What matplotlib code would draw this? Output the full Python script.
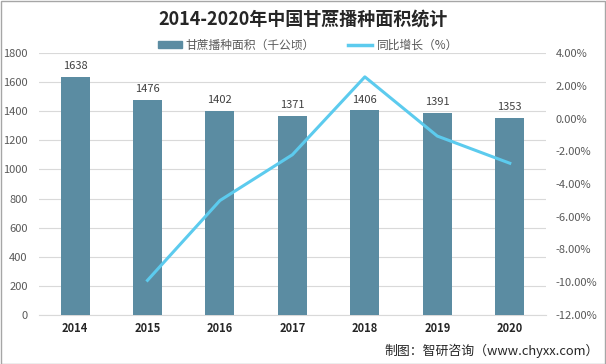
import numpy as np
import matplotlib.pyplot as plt
from matplotlib.ticker import FuncFormatter

plt.rcParams['font.family'] = ['Noto Sans CJK SC', 'DejaVu Sans']

years = ['2014', '2015', '2016', '2017', '2018', '2019', '2020']
area = [1638, 1476, 1402, 1371, 1406, 1391, 1353]
growth = [None, -9.89, -5.01, -2.21, 2.55, -1.07, -2.73]

bar_color = '#5b8ca2'
line_color = '#5ccbee'
grid_color = '#d9d9d9'
text_color = '#595959'

fig = plt.figure(figsize=(6.06, 3.64), dpi=100)
ax = fig.add_axes([0.064, 0.135, 0.837, 0.719])
x = np.arange(len(years))

bars = ax.bar(x, area, width=0.4, color=bar_color, zorder=3)
for xi, v in zip(x, area):
    ax.text(xi, v + 40, str(v), ha='center', va='bottom', fontsize=8, color='#404040')

ax.set_ylim(0, 1800)
ax.set_yticks(range(0, 1801, 200))
ax.set_xlim(-0.5, len(years) - 0.5)
ax.set_xticks(x)
ax.set_xticklabels(years, fontsize=8, fontweight='bold', color='#262626')
ax.tick_params(axis='y', labelsize=8, labelcolor=text_color, length=0, pad=8)
ax.tick_params(axis='x', length=0, pad=5)
ax.grid(axis='y', color=grid_color, linewidth=0.8, zorder=0)
for s in ax.spines.values():
    s.set_visible(False)
ax.spines['bottom'].set_visible(True)
ax.spines['bottom'].set_color(grid_color)

ax2 = ax.twinx()
gx = [xi for xi, g in zip(x, growth) if g is not None]
gy = [g for g in growth if g is not None]
ax2.plot(gx, gy, color=line_color, linewidth=2.2, zorder=4)
ax2.set_ylim(-12, 4)
ax2.set_yticks(range(-12, 5, 2))
ax2.yaxis.set_major_formatter(FuncFormatter(lambda v, p: f'{v:.2f}%'))
ax2.tick_params(axis='y', labelsize=8, labelcolor=text_color, length=0, pad=7)
for s in ax2.spines.values():
    s.set_visible(False)

fig.text(0.5, 0.948, '2014-2020年中国甘蔗播种面积统计', ha='center', va='center',
         fontsize=13, fontweight='bold', color='#262626')

# legend
fig.patches.append(plt.Rectangle((158 / 606, 1 - 48 / 364), 24 / 606, 7 / 364,
                                 transform=fig.transFigure, color=bar_color))
fig.text(185 / 606, 1 - 45 / 364, '甘蔗播种面积（千公顷）', ha='left', va='center',
         fontsize=8.5, color=text_color)
fig.lines.append(plt.Line2D([348 / 606, 372 / 606], [1 - 45 / 364, 1 - 45 / 364],
                            transform=fig.transFigure, color=line_color, linewidth=2.5))
fig.text(377 / 606, 1 - 45 / 364, '同比增长（%）', ha='left', va='center',
         fontsize=8.5, color=text_color)

fig.text(0.988, 0.035, '制图：智研咨询（www.chyxx.com）', ha='right', va='center',
         fontsize=9.3, color='#262626')

fig.patches.append(plt.Rectangle((0.001, 0.001), 0.997, 0.997, transform=fig.transFigure,
                                 fill=False, edgecolor='#a6a6a6', linewidth=1))

fig.savefig('out.png', dpi=100)
